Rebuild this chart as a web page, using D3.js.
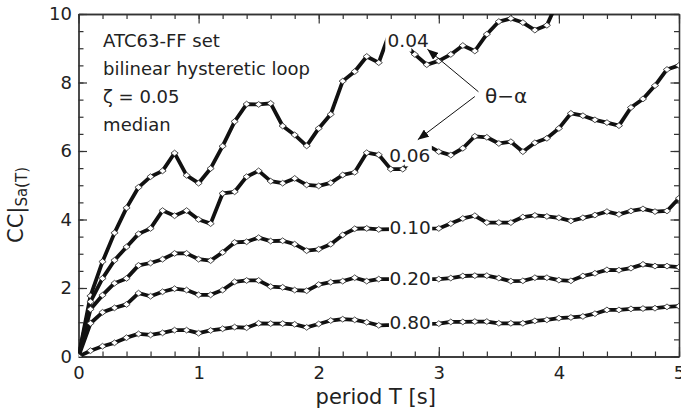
<!DOCTYPE html>
<html><head><meta charset="utf-8">
<script src="https://cdn.jsdelivr.net/npm/d3@7/dist/d3.min.js"></script>
<style>
body{margin:0;background:#fff;}
text{font-family:"DejaVu Sans",Verdana,sans-serif;fill:#222;}
</style>
</head><body>
<svg id="c" width="681" height="411"></svg>
<script>
// ---- data (CC|Sa(T) vs period T, step 0.1 s; null = hidden under a label) ----
const periods = d3.range(0, 51).map(i => Math.round(i) / 10);
const cc004 = [0,1.77,2.77,3.61,4.34,4.94,5.25,5.42,5.94,5.29,5.06,5.49,6.14,6.86,7.37,7.36,7.39,6.73,6.47,6.15,6.66,7.07,8.04,8.32,8.76,8.58,9.55,null,8.82,8.52,8.63,8.82,9.08,8.92,9.41,9.78,9.87,9.75,9.53,9.67,10.45];
const cc006 = [0,1.60,2.28,2.81,3.20,3.58,3.74,4.26,4.11,4.26,4.00,3.88,4.76,4.81,5.25,5.42,5.12,5.06,5.20,5.01,4.98,5.07,5.30,5.38,5.95,5.89,5.47,5.47,null,6.17,5.98,5.88,6.08,6.43,6.40,6.22,6.27,5.98,6.24,6.37,6.66,7.10,7.03,6.91,6.83,6.74,7.27,7.52,7.91,8.38,8.50];
const cc010 = [0,1.38,1.79,2.14,2.28,2.66,2.73,2.84,3.01,3.01,2.84,2.80,3.04,3.33,3.35,3.47,3.37,3.38,3.28,3.09,3.13,3.28,3.55,3.73,3.74,3.71,null,null,null,null,3.74,3.88,4.03,4.11,3.91,3.91,3.91,4.07,4.12,4.09,4.05,3.96,4.05,4.13,4.23,4.15,4.25,4.31,4.23,4.25,4.62];
const cc020 = [0,0.97,1.29,1.42,1.52,1.85,1.76,1.89,1.98,1.94,1.80,1.80,1.94,2.18,2.22,2.22,2.04,2.02,1.94,1.92,2.10,2.17,2.20,2.30,2.20,2.26,null,null,null,null,2.26,2.29,2.35,2.36,2.36,2.29,2.20,2.21,2.30,2.30,2.23,2.21,2.35,2.43,2.53,2.52,2.58,2.69,2.64,2.64,2.61];
const cc080 = [0,0.17,0.30,0.40,0.55,0.66,0.63,0.69,0.77,0.77,0.68,0.76,0.81,0.86,0.84,0.97,0.96,0.96,0.94,0.85,0.95,1.05,1.09,1.07,1.00,0.91,null,null,null,null,0.96,1.01,1.01,1.02,1.02,0.97,0.97,0.97,1.04,1.07,1.12,1.14,1.17,1.25,1.36,1.36,1.39,1.40,1.41,1.45,1.47];
const seriesNames = ["0.04","0.06","0.10","0.20","0.80"];
const seriesValues = [cc004, cc006, cc010, cc020, cc080];
const xMajorTicks = [0,1,2,3,4,5];
const xMinorTicks = d3.range(0, 26).map(i => i / 5);
const yMajorTicks = [0,2,4,6,8,10];
const yMinorTicks = d3.range(0, 21).map(i => i / 2);
const infoLines = ["ATC63-FF set","bilinear hysteretic loop","\u03B6 = 0.05","median"];
const paramLabel = "\u03B8\u2212\u03B1";
const xTitle = "period T [s]";

// ---- label placement (data units) ----
const curveLabels = [
  {name:"0.04", x:2.745, y:9.22, mask:[2.555,2.772,8.9,9.8]},
  {name:"0.06", x:2.758, y:5.88, mask:[2.716,2.942,5.55,6.45]},
  {name:"0.10", x:2.762, y:3.76, mask:[2.585,2.945,3.45,4.05]},
  {name:"0.20", x:2.762, y:2.27, mask:[2.585,2.945,1.97,2.57]},
  {name:"0.80", x:2.762, y:0.99, mask:[2.585,2.945,0.69,1.29]}
];
const arrows = [
  {from:[3.33,7.73], to:[2.905,8.97]},
  {from:[3.30,7.59], to:[2.825,6.33]}
];

// ---- chart ----
const svg = d3.select("#c");
const x = d3.scaleLinear().domain([0,5]).range([78.5,679]);
const y = d3.scaleLinear().domain([0,10]).range([356.5,14]);
const [X0,X1] = x.range(), [Y0,Y1] = y.range();
const font = '"DejaVu Sans",Verdana,sans-serif';

const defs = svg.append("defs");
defs.append("clipPath").attr("id","plot")
  .append("rect").attr("x",X0).attr("y",Y1).attr("width",X1-X0).attr("height",Y0-Y1);
defs.append("marker").attr("id","ah").attr("markerUnits","userSpaceOnUse")
  .attr("viewBox","0 0 10 8").attr("refX",10).attr("refY",4)
  .attr("markerWidth",11).attr("markerHeight",9).attr("orient","auto")
  .append("path").attr("d","M0,0L10,4L0,8Z").attr("fill","#111");

function styleAxis(g){
  g.select(".domain").attr("stroke","#333").attr("stroke-width",1.3);
  g.selectAll(".tick line").attr("stroke","#333").attr("stroke-width",1.2);
  g.attr("font-family",font).attr("font-size",18);
  g.selectAll(".tick text").attr("fill","#222");
}
function addAxis(make, tr, minor, major, minorLen, majorLen, labels, pad){
  const gm = svg.append("g").attr("transform",tr)
    .call(make().tickValues(minor).tickSizeInner(-minorLen).tickSizeOuter(0).tickFormat(""));
  styleAxis(gm);
  const gM = svg.append("g").attr("transform",tr)
    .call(make().tickValues(major).tickSizeInner(-majorLen).tickSizeOuter(0)
      .tickPadding(pad).tickFormat(labels ? d3.format("d") : ""));
  styleAxis(gM);
  return gM;
}
addAxis(() => d3.axisBottom(x), `translate(0,${Y0})`, xMinorTicks, xMajorTicks, 5, 9.5, true, 10);
addAxis(() => d3.axisTop(x), `translate(0,${Y1})`, xMinorTicks, xMajorTicks, 5, 9.5, false, 3);
addAxis(() => d3.axisLeft(y), `translate(${X0},0)`, yMinorTicks, yMajorTicks, 5, 8.5, true, 6.5);
addAxis(() => d3.axisRight(y), `translate(${X1},0)`, yMinorTicks, yMajorTicks, 5, 8.5, false, 3);

// lines + markers
const plot = svg.append("g").attr("clip-path","url(#plot)");
const line = d3.line().x(d => x(d[0])).y(d => y(d[1])).curve(d3.curveLinear);
const diamond = "M0,-2.9L3.6,0L0,2.9L-3.6,0Z";
seriesValues.forEach((vals, k) => {
  const pts = vals.map((v,i) => [periods[i], v]).filter(d => d[1] != null);
  plot.append("path").datum(pts).attr("d", line)
    .attr("fill","none").attr("stroke","#111").attr("stroke-width",3.8)
    .attr("stroke-linejoin","round");
  plot.selectAll(null).data(pts).enter().append("path")
    .attr("d", diamond)
    .attr("transform", d => `translate(${x(d[0])},${y(d[1])})`)
    .attr("fill","#fff").attr("stroke","#222").attr("stroke-width",0.8);
});

// label masks and labels
curveLabels.forEach(l => {
  const [xa,xb,ya,yb] = l.mask;
  svg.append("rect").attr("x",x(xa)).attr("y",y(yb))
    .attr("width",x(xb)-x(xa)).attr("height",y(ya)-y(yb)).attr("fill","#fff");
});
curveLabels.forEach(l => {
  svg.append("text").attr("x",x(l.x)).attr("y",y(l.y))
    .attr("text-anchor","middle").attr("dominant-baseline","central")
    .attr("font-size",18.5).text(l.name);
});

// arrows
arrows.forEach(a => {
  svg.append("line").attr("x1",x(a.from[0])).attr("y1",y(a.from[1]))
    .attr("x2",x(a.to[0])).attr("y2",y(a.to[1]))
    .attr("stroke","#111").attr("stroke-width",1).attr("marker-end","url(#ah)");
});
svg.append("text").attr("x",x(3.385)).attr("y",y(7.62))
  .attr("dominant-baseline","central").attr("font-size",20).text(paramLabel);

// info text
infoLines.forEach((t,i) => {
  svg.append("text").attr("x",x(0.205)).attr("y",47 + i*28)
    .attr("font-size",18).text(t);
});

// axis titles
svg.append("text").attr("x",(X0+X1)/2 - 3).attr("y",404)
  .attr("text-anchor","middle").attr("font-size",21).text(xTitle);
const yt = svg.append("text").attr("transform","translate(23,205) rotate(-90)")
  .attr("text-anchor","middle").attr("font-size",21);
yt.append("tspan").text("CC|");
yt.append("tspan").attr("font-size",15).attr("dy",4).text("Sa(T)");
</script>
</body></html>
